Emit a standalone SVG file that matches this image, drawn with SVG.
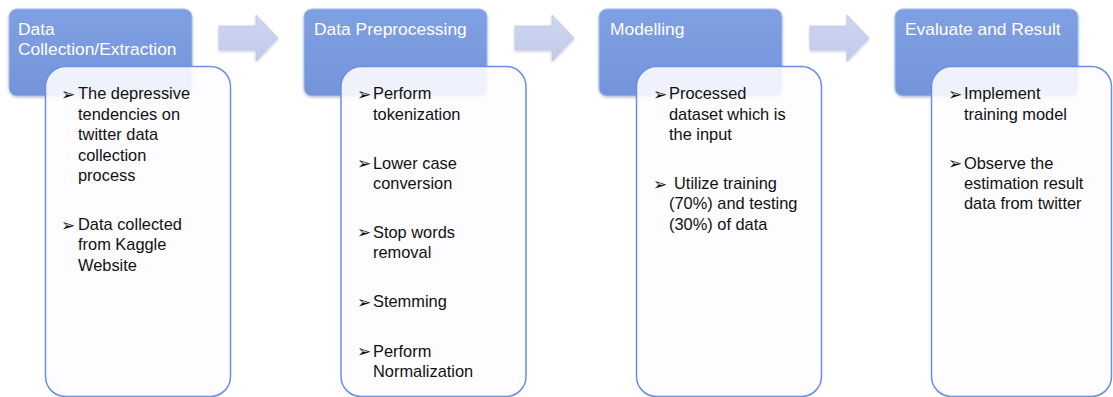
<svg xmlns="http://www.w3.org/2000/svg" width="1113" height="397" viewBox="0 0 1113 397">
  <defs>
    <linearGradient id="hdrFill" x1="0" y1="0" x2="0" y2="1">
      <stop offset="0" stop-color="#7fa0e2"/>
      <stop offset="1" stop-color="#7394da"/>
    </linearGradient>
    <linearGradient id="arrowFill" x1="0" y1="0" x2="0" y2="1">
      <stop offset="0" stop-color="#cdd5f0"/>
      <stop offset="1" stop-color="#c2cbec"/>
    </linearGradient>
    <filter id="softShadow" x="-10%" y="-10%" width="120%" height="125%">
      <feGaussianBlur in="SourceAlpha" stdDeviation="1.5"/>
      <feOffset dx="0" dy="1" result="b"/>
      <feComponentTransfer><feFuncA type="linear" slope="0.25"/></feComponentTransfer>
      <feMerge><feMergeNode/><feMergeNode in="SourceGraphic"/></feMerge>
    </filter>
    <path id="arrowShape" d="M0,11 H37 V0 L59,23 L37,46 V35 H0 Z"/>
  </defs>
  <style>
    .hdr { fill: url(#hdrFill); stroke: #a5bbec; stroke-width: 1; filter: url(#softShadow); }
    .card { fill: #fdfcff; fill-opacity: 0.9; stroke: #6b8fe0; stroke-width: 1.5; }
    .arrow { fill: url(#arrowFill); stroke: #b9c3e6; stroke-width: 0.6; filter: url(#softShadow); }
    .htxt { font-family: "Liberation Sans", Arial, sans-serif; font-size: 17.4px; fill: #ffffff; }
    .btxt { font-family: "Liberation Sans", Arial, sans-serif; font-size: 16.4px; fill: #111111; }
    .blt { font-family: "DejaVu Sans", sans-serif; font-size: 17px; fill: #111111; }
  </style>

  <!-- flow arrows between stages -->
  <g id="connectors">
    <use href="#arrowShape" class="arrow" x="219" y="15"/>
    <use href="#arrowShape" class="arrow" x="515" y="15"/>
    <use href="#arrowShape" class="arrow" x="810" y="15"/>
  </g>

  <!-- stage 1 -->
  <g id="stage-collection">
    <rect class="hdr" x="9" y="9" width="183" height="87" rx="8"/>
    <text class="htxt" x="18" y="35">Data</text>
    <text class="htxt" x="18" y="55">Collection/Extraction</text>
    <rect class="card" x="45.5" y="66.5" width="185" height="330" rx="20"/>
    <text class="blt" x="61" y="100">➢</text>
    <text class="btxt" x="78" y="99.3">The depressive</text>
    <text class="btxt" x="78" y="119.7">tendencies on</text>
    <text class="btxt" x="78" y="140.1">twitter data</text>
    <text class="btxt" x="78" y="160.5">collection</text>
    <text class="btxt" x="78" y="180.9">process</text>
    <text class="blt" x="61" y="230.5">➢</text>
    <text class="btxt" x="78" y="229.8">Data collected</text>
    <text class="btxt" x="78" y="250.2">from Kaggle</text>
    <text class="btxt" x="78" y="270.6">Website</text>
  </g>

  <!-- stage 2 -->
  <g id="stage-preprocessing">
    <rect class="hdr" x="304" y="9" width="183" height="87" rx="8"/>
    <text class="htxt" x="314" y="35">Data Preprocessing</text>
    <rect class="card" x="341" y="66.5" width="185" height="330" rx="20"/>
    <text class="blt" x="357" y="100">➢</text>
    <text class="btxt" x="373" y="99.3">Perform</text>
    <text class="btxt" x="373" y="119.7">tokenization</text>
    <text class="blt" x="357" y="169.2">➢</text>
    <text class="btxt" x="373" y="168.5">Lower case</text>
    <text class="btxt" x="373" y="188.9">conversion</text>
    <text class="blt" x="357" y="238.4">➢</text>
    <text class="btxt" x="373" y="237.7">Stop words</text>
    <text class="btxt" x="373" y="258.1">removal</text>
    <text class="blt" x="357" y="307.6">➢</text>
    <text class="btxt" x="373" y="306.9">Stemming</text>
    <text class="blt" x="357" y="357.2">➢</text>
    <text class="btxt" x="373" y="356.5">Perform</text>
    <text class="btxt" x="373" y="376.9">Normalization</text>
  </g>

  <!-- stage 3 -->
  <g id="stage-modelling">
    <rect class="hdr" x="599" y="9" width="183" height="87" rx="8"/>
    <text class="htxt" x="610" y="35">Modelling</text>
    <rect class="card" x="636.5" y="66.5" width="185" height="330" rx="20"/>
    <text class="blt" x="653" y="100">➢</text>
    <text class="btxt" x="669" y="99.3">Processed</text>
    <text class="btxt" x="669" y="119.7">dataset which is</text>
    <text class="btxt" x="669" y="140.1">the input</text>
    <text class="blt" x="653" y="189.7">➢</text>
    <text class="btxt" x="674" y="189">Utilize training</text>
    <text class="btxt" x="669" y="209.4">(70%) and testing</text>
    <text class="btxt" x="669" y="229.8">(30%) of data</text>
  </g>

  <!-- stage 4 -->
  <g id="stage-evaluation">
    <rect class="hdr" x="895" y="9" width="183" height="87" rx="8"/>
    <text class="htxt" x="905" y="35">Evaluate and Result</text>
    <rect class="card" x="931.5" y="66.5" width="180" height="330" rx="20"/>
    <text class="blt" x="948" y="100">➢</text>
    <text class="btxt" x="964" y="99.3">Implement</text>
    <text class="btxt" x="964" y="119.7">training model</text>
    <text class="blt" x="948" y="169.2">➢</text>
    <text class="btxt" x="964" y="168.5">Observe the</text>
    <text class="btxt" x="964" y="188.9">estimation result</text>
    <text class="btxt" x="964" y="209.3">data from twitter</text>
  </g>
</svg>
